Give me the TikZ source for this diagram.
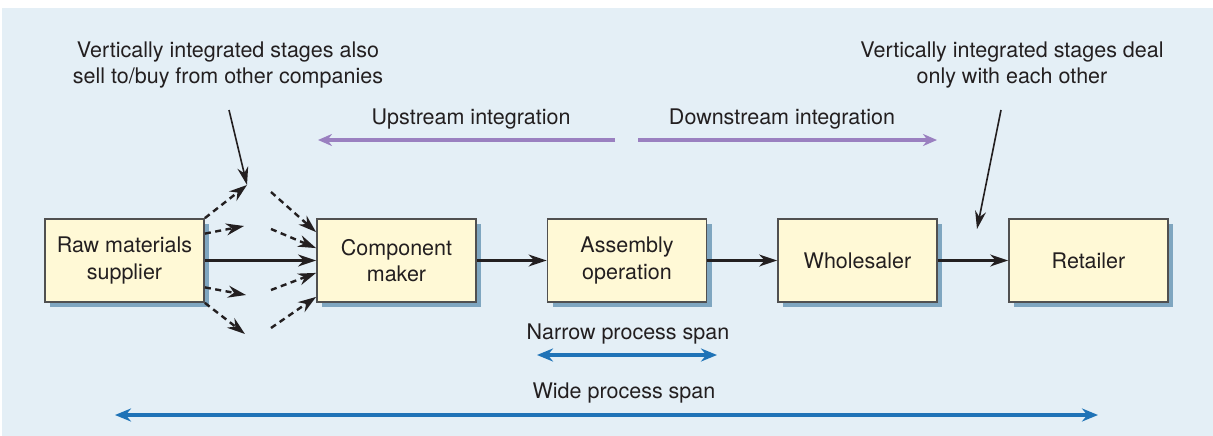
\documentclass[tikz,border=0pt]{standalone}
\usepackage{fontspec}
\setmainfont{TeX Gyre Heros}
\usetikzlibrary{arrows.meta,shadows}
\definecolor{bgc}{HTML}{E4EFF6}
\definecolor{boxc}{HTML}{FFF9D6}
\definecolor{edgec}{HTML}{505050}
\definecolor{shadc}{HTML}{7FA6C0}
\definecolor{txtc}{HTML}{231F20}
\definecolor{purp}{HTML}{9A80C0}
\definecolor{bluec}{HTML}{1F73B7}
\begin{document}
\begin{tikzpicture}[x=1pt,y=-1pt,
  every node/.style={text=txtc,font=\fontsize{21.5}{26.5}\selectfont},
  stagebox/.style={draw=edgec,line width=1.8pt,fill=boxc,minimum width=159pt,minimum height=83pt,align=center,inner sep=0pt,
     drop shadow={shadow xshift=5pt,shadow yshift=-5pt,fill=shadc,opacity=1}},
  flow/.style={draw=txtc,line width=2.4pt,-{Stealth[length=18pt,width=12pt]}},
  dflow/.style={flow,dash pattern=on 6pt off 4.5pt},
  pointer/.style={draw=txtc,line width=1.6pt,-{Stealth[length=18pt,width=11pt]}},
  purparrow/.style={draw=purp,line width=3.2pt,-{Stealth[length=14pt,width=12pt]}},
  bluearrow/.style={draw=bluec,line width=3.2pt,{Stealth[length=16pt,width=13pt]}-{Stealth[length=16pt,width=13pt]}},
  label/.style={align=center,inner sep=0pt}]
\useasboundingbox (0,0) rectangle (1213,436);
\fill[bgc] (2,8) rectangle (1213,436);

\node[stagebox] (raw) at (124.5,260.5) {Raw materials\\supplier};
\node[stagebox] (comp) at (396.5,260.5) {Component\\maker};
\node[stagebox] (asm) at (627,260.5) {Assembly\\operation};
\node[stagebox] (whole) at (857.5,260.5) {Wholesaler};
\node[stagebox] (ret) at (1088.5,260.5) {Retailer};

\draw[flow] (raw) -- (comp);
\draw[flow] (comp) -- (asm);
\draw[flow] (asm) -- (whole);
\draw[flow] (whole) -- (ret);

% dashed out-going arrows
\coordinate (o1) at (247,185);
\coordinate (o2) at (244,226);
\coordinate (o3) at (246,295);
\coordinate (o4) at (245,334);
\draw[dflow] (raw.north east) -- (o1);
\draw[dflow] ([yshift=-15.5pt]raw.north east) -- (o2);
\draw[dflow] ([yshift=15.5pt]raw.south east) -- (o3);
\draw[dflow] (raw.south east) -- (o4);
% dashed in-coming arrows
\coordinate (i1) at (271,192);
\coordinate (i2) at (271,229);
\coordinate (i3) at (271,290);
\coordinate (i4) at (271,328);
\draw[dflow] (i1) -- ([yshift=-14pt]comp.north west);
\draw[dflow] (i2) -- ([yshift=-30pt]comp.north west);
\draw[dflow] (i3) -- ([yshift=30pt]comp.south west);
\draw[dflow] (i4) -- ([yshift=6pt]comp.south west);

% annotations
\node[label] (lnote) at (228,65) {Vertically integrated stages also\\sell to/buy from other companies};
\node[label] (rnote) at (1012,65) {Vertically integrated stages deal\\only with each other};
\coordinate (lstart) at (229,110);
\coordinate (rstart) at (1001,110);
\coordinate (rend) at (977,229);
\draw[pointer] (lstart) -- (o1);
\draw[pointer] (rstart) -- (rend);

% integration arrows
\node[label] (up) at (471,119) {Upstream integration};
\node[label] (down) at (782,119) {Downstream integration};
\coordinate (upR) at (615,140);
\coordinate (upL) at (318,140);
\coordinate (dnL) at (638,140);
\coordinate (dnR) at (937,140);
\draw[purparrow] (upR) -- (upL);
\draw[purparrow] (dnL) -- (dnR);

% process spans
\node[label] (narrow) at (628,334) {Narrow process span};
\coordinate (nL) at (537,355);
\coordinate (nR) at (717,355);
\draw[bluearrow] (nL) -- (nR);
\node[label] (wide) at (624,393) {Wide process span};
\coordinate (wL) at (115,415);
\coordinate (wR) at (1098,415);
\draw[bluearrow] (wL) -- (wR);
\end{tikzpicture}
\end{document}
